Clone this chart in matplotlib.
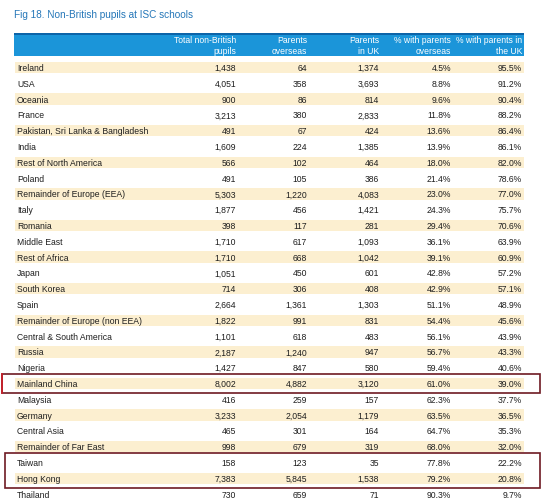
import matplotlib
matplotlib.use("Agg")
import matplotlib.pyplot as plt
from matplotlib.patches import Rectangle

plt.rcParams['font.family'] = ['Liberation Sans Narrow', 'Liberation Sans', 'DejaVu Sans']

title = "Fig 18. Non-British pupils at ISC schools"
headers = ["Total non-British\npupils", "Parents\noverseas", "Parents\nin UK",
           "% with parents\noverseas", "% with parents in\nthe UK"]

countries = ["Ireland", "USA", "Oceania", "France", "Pakistan, Sri Lanka & Bangladesh",
             "India", "Rest of North America", "Poland", "Remainder of Europe (EEA)",
             "Italy", "Romania", "Middle East", "Rest of Africa", "Japan", "South Korea",
             "Spain", "Remainder of Europe (non EEA)", "Central & South America", "Russia",
             "Nigeria", "Mainland China", "Malaysia", "Germany", "Central Asia",
             "Remainder of Far East", "Taiwan", "Hong Kong", "Thailand"]
total = [1438, 4051, 900, 3213, 491, 1609, 566, 491, 5303, 1877, 398, 1710, 1710, 1051,
         714, 2664, 1822, 1101, 2187, 1427, 8002, 416, 3233, 465, 998, 158, 7383, 730]
overseas = [64, 358, 86, 380, 67, 224, 102, 105, 1220, 456, 117, 617, 668, 450,
            306, 1361, 991, 618, 1240, 847, 4882, 259, 2054, 301, 679, 123, 5845, 659]
in_uk = [1374, 3693, 814, 2833, 424, 1385, 464, 386, 4083, 1421, 281, 1093, 1042, 601,
         408, 1303, 831, 483, 947, 580, 3120, 157, 1179, 164, 319, 35, 1538, 71]
pct_overseas = [4.5, 8.8, 9.6, 11.8, 13.6, 13.9, 18.0, 21.4, 23.0, 24.3, 29.4, 36.1, 39.1, 42.8,
                42.9, 51.1, 54.4, 56.1, 56.7, 59.4, 61.0, 62.3, 63.5, 64.7, 68.0, 77.8, 79.2, 90.3]
pct_uk = [95.5, 91.2, 90.4, 88.2, 86.4, 86.1, 82.0, 78.6, 77.0, 75.7, 70.6, 63.9, 60.9, 57.2,
          57.1, 48.9, 45.6, 43.9, 43.3, 40.6, 39.0, 37.7, 36.5, 35.3, 32.0, 22.2, 20.8, 9.7]
highlight = [["Mainland China"], ["Taiwan", "Hong Kong"]]

W, H = 542, 502
fig = plt.figure(figsize=(W / 100, H / 100), dpi=100)
ax = fig.add_axes([0, 0, 1, 1])
ax.set_xlim(0, W)
ax.set_ylim(H, 0)
ax.axis('off')

# layout in pixels
left, right = 14, 524
col_right = [236, 307, 379, 451, 522]
y0, step, band = 68.5, 15.8, 11.5
fs = 6.2
txt = '#1e1e1e'

ax.text(14, 15, title, fontsize=7.2, color='#2476b8', va='center', ha='left')

# header
ax.add_patch(Rectangle((left, 34), right - left, 23, facecolor='#1b95d9', edgecolor='none'))
ax.add_patch(Rectangle((left, 34), right - left, 2, facecolor='#0d64a8', edgecolor='none'))
for x, h in zip(col_right, headers):
    ax.text(x, 46, h, fontsize=fs, color='white', ha='right', va='center', linespacing=1.15)

# rows
for i, name in enumerate(countries):
    y = y0 + i * step
    if i % 2 == 0:
        ax.add_patch(Rectangle((left + 1, y - band / 2), right - left - 1, band,
                               facecolor='#fcefd0', edgecolor='none'))
    vals = ["{:,}".format(total[i]), "{:,}".format(overseas[i]), "{:,}".format(in_uk[i]),
            "{:.1f}%".format(pct_overseas[i]), "{:.1f}%".format(pct_uk[i])]
    ax.text(17, y, name, fontsize=fs, color=txt, ha='left', va='center')
    for x, v in zip(col_right, vals):
        ax.text(x, y, v, fontsize=fs, color=txt, ha='right', va='center')

# red boxes around highlighted rows
box_left = [1.5, 5]
for grp, bl in zip(highlight, box_left):
    i0 = countries.index(grp[0])
    i1 = countries.index(grp[-1])
    top = y0 + i0 * step - 9.5
    bot = y0 + i1 * step + 9.5
    ax.add_patch(Rectangle((bl, top), 540 - bl, bot - top, facecolor='none',
                           edgecolor='#6e1a22', linewidth=1.2))
# the China box has a brighter red left edge
i0 = countries.index("Mainland China")
ax.plot([1.5, 1.5], [y0 + i0 * step - 9.5, y0 + i0 * step + 9.5], color='#c8202a', lw=1.3)

fig.savefig('out.png', dpi=100)
